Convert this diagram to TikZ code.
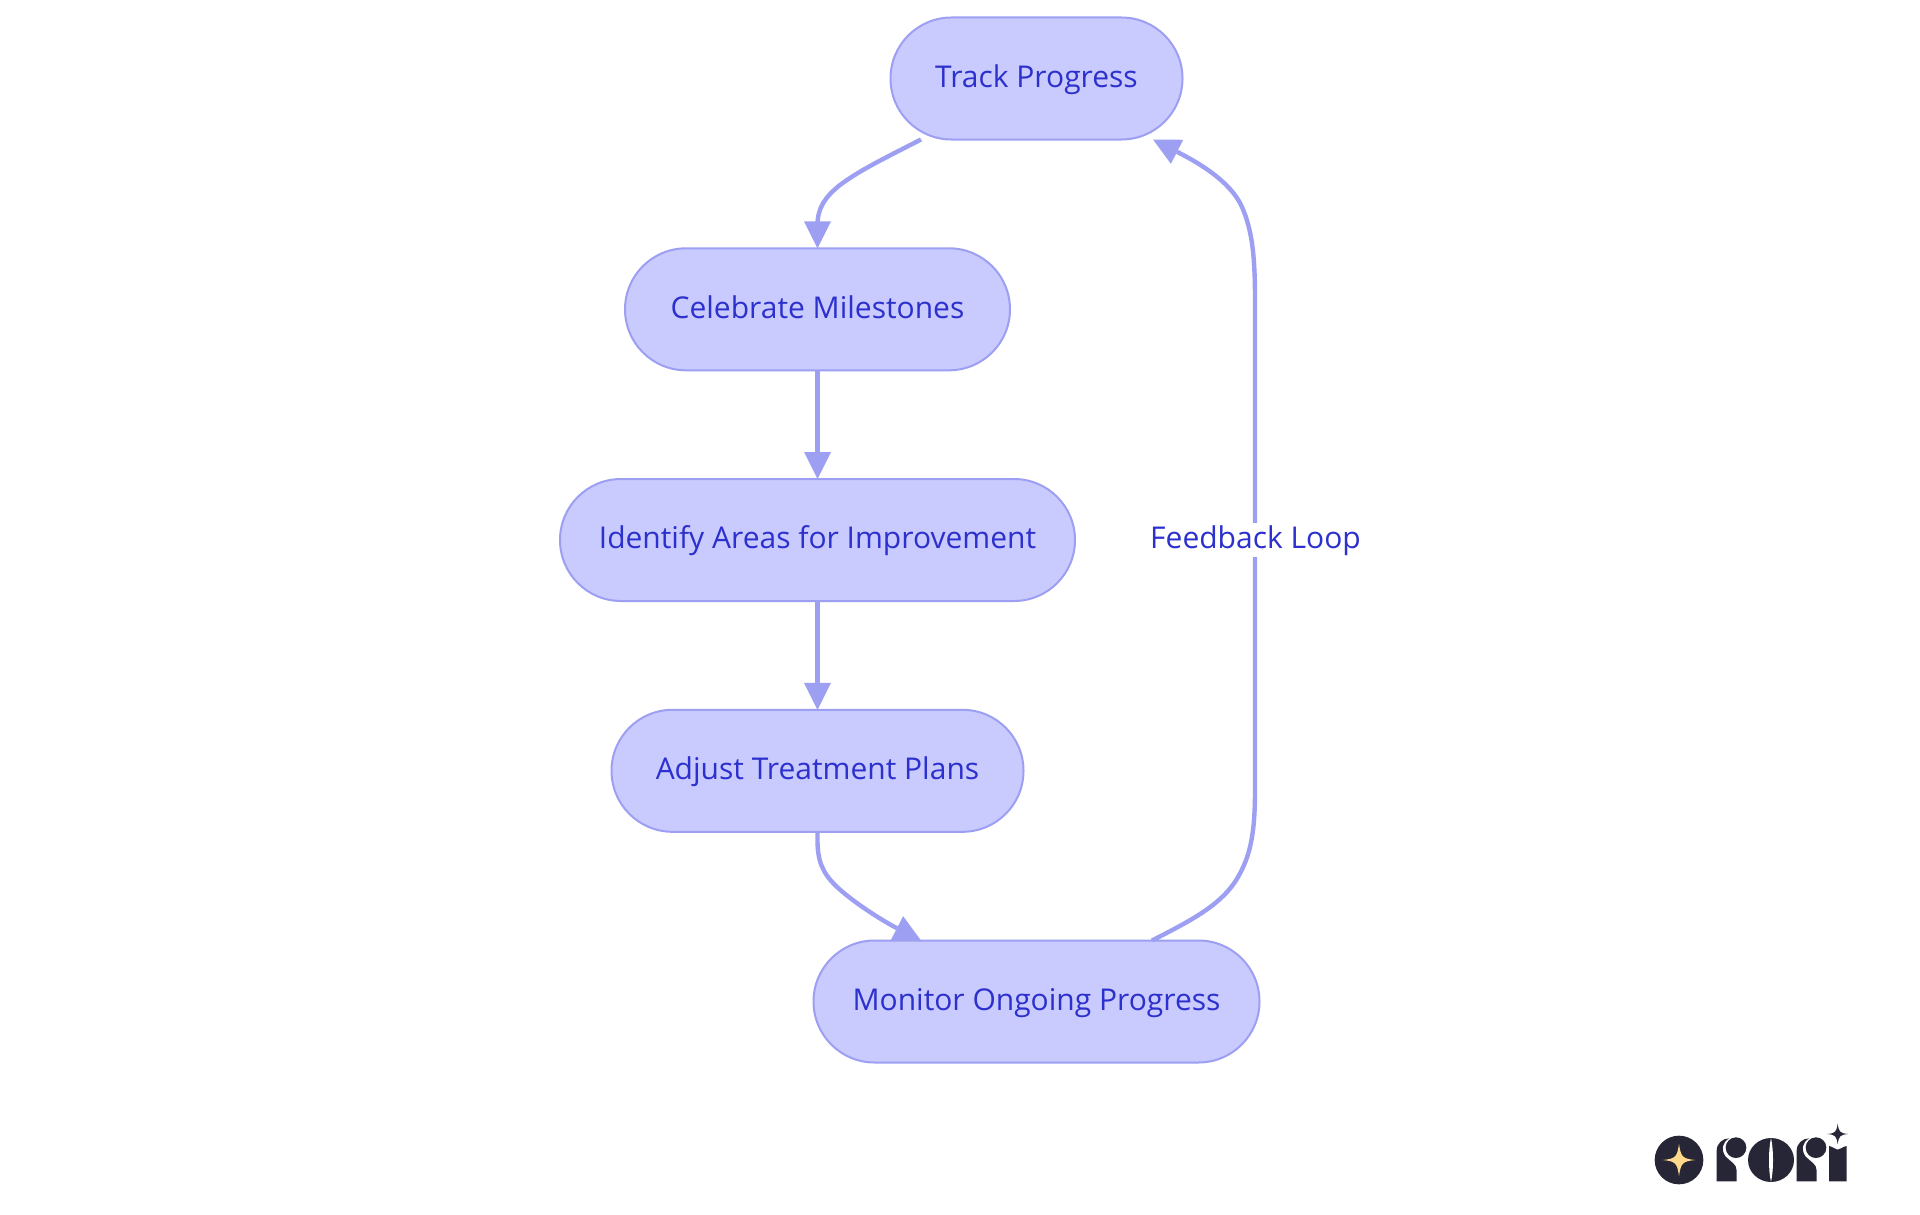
\documentclass[tikz,border=0pt]{standalone}
\usepackage{fontspec}
\setmainfont{Open Sans}[Scale=1]
\usetikzlibrary{arrows.meta,calc}
\definecolor{nfill}{HTML}{C9CAFE}
\definecolor{nline}{HTML}{9D9FF2}
\definecolor{ntext}{HTML}{2C30CC}
\definecolor{logodark}{HTML}{272636}
\definecolor{logostar}{HTML}{FFD88C}
\newcommand{\diagtext}{\fontsize{30pt}{36pt}\selectfont}
\newcommand{\sparkle}[5][logodark]{%
  \fill[#1] (#2,#3-#5) .. controls (#2+.12*#4,#3-.2*#5) and (#2+.2*#4,#3-.08*#5) .. (#2+#4,#3)
    .. controls (#2+.2*#4,#3+.08*#5) and (#2+.12*#4,#3+.2*#5) .. (#2,#3+#5)
    .. controls (#2-.12*#4,#3+.2*#5) and (#2-.2*#4,#3+.08*#5) .. (#2-#4,#3)
    .. controls (#2-.2*#4,#3-.08*#5) and (#2-.12*#4,#3-.2*#5) .. (#2,#3-#5) -- cycle;}
\newcommand{\logor}[1]{%
  \begin{scope}[xshift=#1]
  \fill[logodark] (290,244) -- (290,152) .. controls (290,130) and (308,115) .. (328,115)
    .. controls (307,125) and (302,150) .. (317,170) .. controls (333,186) and (350,192) .. (350,212)
    -- (350,244) -- cycle;
  \fill[logodark] (348,143) circle[radius=31];
  \end{scope}}
\tikzset{
  x=1pt,y=-1pt,
  box/.style={draw=nline,fill=nfill,line width=2pt,rounded corners=61pt,minimum height=122pt,
    text=ntext,font=\diagtext,inner sep=0pt,outer sep=0pt,text height=24.8pt,text depth=7.2pt,align=center},
  edge/.style={draw=nline,line width=4.4pt,-{Triangle[length=27pt,width=27pt,line width=0pt]}},
  lab/.style={fill=white,text=ntext,font=\diagtext,inner sep=1pt,outer sep=0pt,text height=24.8pt,text depth=7.2pt}
}
\begin{document}
\begin{tikzpicture}
\useasboundingbox (0,0) rectangle (1920,1215);
\fill[white] (0,0) rectangle (1920,1215);
\node[box,minimum width=292pt] (track) at (1036.5,78.5) {Track Progress};
\node[box,minimum width=385pt] (celebrate) at (817.5,309.3) {Celebrate Milestones};
\node[box,minimum width=515pt] (identify) at (817.5,540) {Identify Areas for Improvement};
\node[box,minimum width=412pt] (adjust) at (817.5,770.8) {Adjust Treatment Plans};
\node[box,minimum width=446pt] (monitor) at (1036.5,1001.5) {Monitor Ongoing Progress};
\draw[edge] ($(track.south)+(-115.5,0)$) .. controls (885,158) and (860,170) .. (840,185)
  .. controls (825,197) and (817.5,208) .. (817.5,225) -- (celebrate.north);
\draw[edge] (celebrate.south) -- (identify.north);
\draw[edge] (identify.south) -- (adjust.north);
\draw[edge] (adjust.south) -- (817.5,840) .. controls (817.5,860) and (822,872) .. (835,885)
  .. controls (850,900) and (881,920) .. ($(monitor.north)+(-115.5,0)$);
\draw[edge] ($(monitor.north)+(115.5,0)$) .. controls (1190,921) and (1222,905) .. (1238,877)
  .. controls (1250,856) and (1255,835) .. (1255,790) -- (1255,300)
  .. controls (1255,255) and (1252,230) .. (1242,207)
  .. controls (1230,180) and (1195,161) .. ($(track.south)+(116.5,0)$);
\node[lab] (feedback) at (1255.5,540) {Feedback Loop};
\begin{scope}[shift={(1620,1100)},x=.33333pt,y=-.33333pt]
  \fill[logodark] (177,180) circle[radius=73];
  \sparkle[logostar]{177}{180}{49}{48}
  \logor{0pt}
  \logor{80pt}
  \fill[logodark] (453,180) ellipse[x radius=69,y radius=66];
  \fill[white] (453,114) .. controls (445,150) and (445,210) .. (453,246)
    .. controls (461,210) and (461,150) .. (453,114) -- cycle;
  \fill[logodark] (627,244) -- (627,138) .. controls (640,140) and (645,149) .. (653,149)
    .. controls (661,149) and (667,140) .. (680,138) -- (680,244) -- cycle;
  \sparkle{653}{102}{31}{31}
\end{scope}
\end{tikzpicture}
\end{document}
